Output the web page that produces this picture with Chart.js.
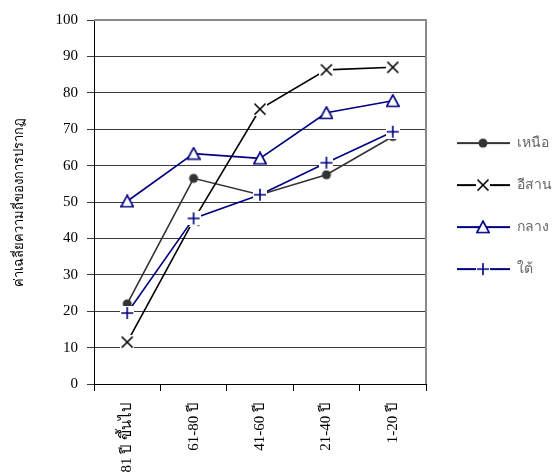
<!DOCTYPE html>
<html>
<head>
<meta charset="utf-8">
<script src="https://cdn.jsdelivr.net/npm/chart.js@4.4.0/dist/chart.umd.min.js"></script>
<style>
  html, body { margin: 0; padding: 0; background: #fff; }
  #wrap { width: 557px; height: 474px; }
</style>
</head>
<body>
<div id="wrap"><canvas id="chart" width="557" height="474"></canvas></div>
<script>
const ageGroups = ['81 ปี ขึ้นไป', '61-80 ปี', '41-60 ปี', '21-40 ปี', '1-20 ปี'];
const north = [22, 56.5, 52, 57.5, 68];
const northeast = [11.5, 45, 75.5, 86.3, 87];
const central = [50.2, 63.3, 62, 74.5, 77.8];
const south = [19.5, 45.5, 52, 60.8, 69.3];
const yTicks = [0, 10, 20, 30, 40, 50, 60, 70, 80, 90, 100];
const seriesNames = ['เหนือ', 'อีสาน', 'กลาง', 'ใต้'];

const FONT = "'Liberation Serif', 'Times New Roman', serif";
const NAVY = '#000080';

// marker drawn on a small canvas, with white box behind crosses
function marker(kind, color) {
  const c = document.createElement('canvas');
  c.width = 14; c.height = 14;
  const g = c.getContext('2d');
  const m = 7;
  g.strokeStyle = color;
  g.lineWidth = 1.6;
  if (kind === 'x' || kind === 'plus') {
    g.fillStyle = '#fff';
    g.fillRect(0, 0, 14, 14);
    g.beginPath();
    if (kind === 'x') {
      g.moveTo(m - 5.5, m - 5.5); g.lineTo(m + 5.5, m + 5.5);
      g.moveTo(m + 5.5, m - 5.5); g.lineTo(m - 5.5, m + 5.5);
    } else {
      g.moveTo(m - 6, m); g.lineTo(m + 6, m);
      g.moveTo(m, m - 6); g.lineTo(m, m + 6);
    }
    g.stroke();
  } else if (kind === 'tri') {
    g.fillStyle = '#fff';
    g.beginPath();
    g.moveTo(m, 1); g.lineTo(m + 6.2, 12.5); g.lineTo(m - 6.2, 12.5); g.closePath();
    g.fill(); g.stroke();
  } else {
    g.fillStyle = color;
    g.beginPath();
    g.arc(m, m, 4.5, 0, Math.PI * 2);
    g.fill();
  }
  return c;
}

function legendImg(kind, color) {
  const c = document.createElement('canvas');
  c.width = 56; c.height = 14;
  const g = c.getContext('2d');
  g.fillStyle = color;
  g.fillRect(3, 6, 53, 2);
  g.drawImage(marker(kind, color), 22, 0);
  return c;
}

const kinds = ['dot', 'x', 'tri', 'plus'];
const colors = ['#333333', '#000000', NAVY, NAVY];
const values = [north, northeast, central, south];
const orders = [3, 2, 1, 0];

const datasets = seriesNames.map((name, i) => ({
  label: name,
  data: values[i],
  borderColor: colors[i],
  backgroundColor: colors[i],
  borderWidth: 1.6,
  pointStyle: marker(kinds[i], colors[i]),
  pointRadius: 7,
  pointHoverRadius: 7,
  tension: 0,
  order: orders[i]
}));

const frame = {
  id: 'frame',
  afterDraw(chart) {
    const a = chart.chartArea;
    const ctx = chart.ctx;
    ctx.save();
    ctx.strokeStyle = '#8a8a8a';
    ctx.lineWidth = 2;
    ctx.beginPath();
    ctx.moveTo(a.left, a.top);
    ctx.lineTo(a.right, a.top);
    ctx.lineTo(a.right, a.bottom);
    ctx.stroke();
    ctx.restore();
  }
};

new Chart(document.getElementById('chart'), {
  type: 'line',
  data: { labels: ageGroups, datasets: datasets },
  options: {
    responsive: false,
    animation: false,
    layout: { padding: { top: 20, left: 0, right: 0, bottom: 0 } },
    plugins: {
      tooltip: { enabled: false },
      legend: {
        position: 'right',
        fullSize: false,
        maxWidth: 131,
        title: { display: true, text: ' ', padding: 3.5, font: { size: 1 } },
        labels: {
          usePointStyle: true,
          pointStyleWidth: 56,
          padding: 28,
          color: '#000',
          font: { family: FONT, size: 14 },
          generateLabels: () => seriesNames.map((name, i) => ({
            text: name,
            pointStyle: legendImg(kinds[i], colors[i]),
            fillStyle: colors[i],
            strokeStyle: colors[i],
            lineWidth: 0,
            hidden: false,
            datasetIndex: i
          }))
        }
      }
    },
    scales: {
      x: {
        offset: true,
        afterFit: s => { s.height = 90; },
        border: { color: '#000', width: 1 },
        grid: { offset: true, drawOnChartArea: false, tickLength: 7, color: '#000' },
        ticks: {
          autoSkip: false,
          maxRotation: 90,
          minRotation: 90,
          padding: 11,
          color: '#000',
          font: { family: FONT, size: 15 }
        }
      },
      y: {
        min: 0,
        max: 100,
        afterFit: s => { s.width = 94; },
        afterBuildTicks: s => { s.ticks = yTicks.map(v => ({ value: v })); },
        border: { color: '#000', width: 1 },
        grid: { color: '#3a3a3a', tickLength: 7 },
        ticks: {
          padding: 9,
          color: '#000',
          font: { family: FONT, size: 15 }
        },
        title: {
          display: true,
          text: 'ค่าเฉลี่ยความถี่ของการปรากฏ',
          color: '#000',
          padding: { top: 12, bottom: 0 },
          font: { family: FONT, size: 13 }
        }
      }
    }
  },
  plugins: [frame]
});
</script>
</body>
</html>
